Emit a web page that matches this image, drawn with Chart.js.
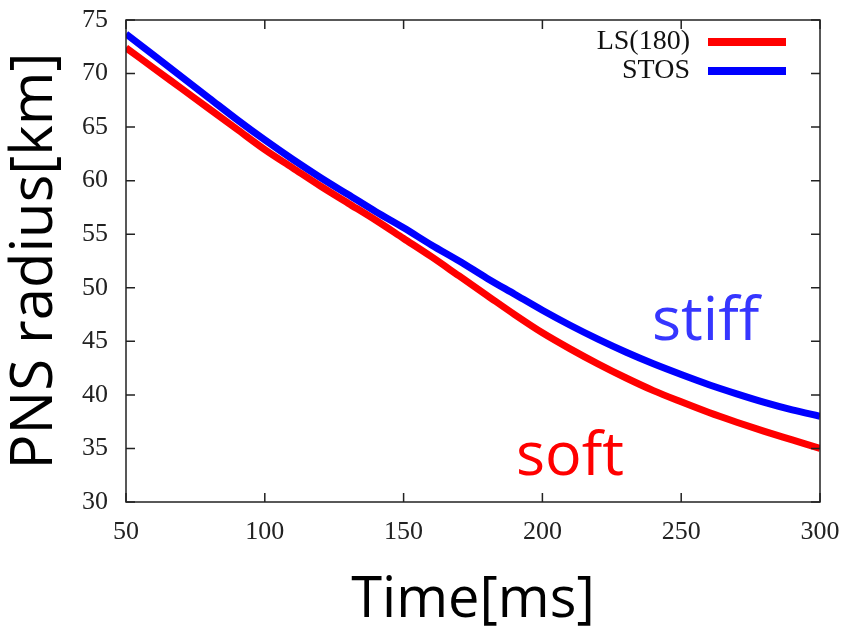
<!DOCTYPE html>
<html>
<head>
<meta charset="utf-8">
<script src="https://cdn.jsdelivr.net/npm/chart.js@4"></script>
<style>
  html, body { margin: 0; padding: 0; background: #fff; }
  #wrap { width: 846px; height: 633px; }
</style>
</head>
<body>
<div id="wrap"><canvas id="radius-chart"></canvas></div>
<script>
const times = [50,60,70,80,90,100,110,120,130,140,150,160,170,180,190,200,210,220,230,240,250,260,270,280,290,300];
const ls180 = [72.4,70.5,68.6,66.7,64.8,62.9,61.2,59.5,57.9,56.3,54.6,52.9,51.1,49.3,47.5,45.8,44.3,42.9,41.6,40.4,39.35,38.35,37.45,36.6,35.8,35.0];
const stos  = [73.7,71.7,69.7,67.7,65.7,63.8,62.0,60.3,58.7,57.1,55.6,54.0,52.5,50.9,49.4,47.9,46.5,45.2,44.0,42.9,41.9,40.95,40.1,39.3,38.6,38.0];
const seriesNames = ["LS(180)", "STOS"];
const seriesColors = ["#ff0000", "#0000ff"];
const xTicks = [50,100,150,200,250,300];
const yTicks = [30,35,40,45,50,55,60,65,70,75];
const notes = [
  {text: "stiff", x: 239.5, y: 45.1, color: "#3636ff"},
  {text: "soft", x: 190.5, y: 32.5, color: "#ff0000"}
];

const ctx = document.getElementById("radius-chart").getContext("2d");

const frame = {
  id: "frame",
  afterDraw(chart) {
    const {ctx, chartArea: a, scales} = chart;
    ctx.save();
    ctx.strokeStyle = "#222";
    ctx.lineWidth = 1.5;
    ctx.beginPath();
    xTicks.forEach(v => {
      const px = scales.x.getPixelForValue(v);
      ctx.moveTo(px, a.bottom); ctx.lineTo(px, a.bottom - 9);
      ctx.moveTo(px, a.top); ctx.lineTo(px, a.top + 9);
    });
    yTicks.forEach(v => {
      const py = scales.y.getPixelForValue(v);
      ctx.moveTo(a.left, py); ctx.lineTo(a.left + 9, py);
      ctx.moveTo(a.right, py); ctx.lineTo(a.right - 9, py);
    });
    ctx.stroke();
    ctx.strokeRect(a.left, a.top, a.right - a.left, a.bottom - a.top);

    // legend, gnuplot style: text then line sample
    ctx.font = "28px 'Liberation Serif'";
    ctx.textAlign = "right";
    ctx.textBaseline = "middle";
    chart.data.datasets.forEach((ds, i) => {
      const y = a.top + 22 + i * 29;
      ctx.fillStyle = "#111";
      ctx.fillText(ds.label, a.right - 130, y);
      ctx.strokeStyle = ds.borderColor;
      ctx.lineWidth = 8;
      ctx.beginPath();
      ctx.moveTo(a.right - 112, y); ctx.lineTo(a.right - 34, y);
      ctx.stroke();
    });

    ctx.font = "61px 'Open Sans'";
    ctx.textAlign = "left";
    ctx.textBaseline = "alphabetic";
    notes.forEach(n => {
      ctx.fillStyle = n.color;
      ctx.fillText(n.text, scales.x.getPixelForValue(n.x), scales.y.getPixelForValue(n.y));
    });
    ctx.restore();
  }
};

new Chart(ctx, {
  type: "line",
  data: {
    datasets: seriesNames.map((name, i) => ({
      label: name,
      data: times.map((t, j) => ({x: t, y: [ls180, stos][i][j]})),
      borderColor: seriesColors[i],
      borderWidth: 7,
      pointRadius: 0,
      cubicInterpolationMode: "monotone",
      fill: false
    }))
  },
  options: {
    responsive: true,
    maintainAspectRatio: false,
    animation: false,
    layout: {padding: {left: 6, right: 26, top: 20, bottom: 4}},
    plugins: {
      legend: {display: false},
      tooltip: {enabled: false}
    },
    scales: {
      x: {
        type: "linear",
        min: 50, max: 300,
        afterBuildTicks: s => { s.ticks = xTicks.map(v => ({value: v})); },
        afterFit: s => { s.paddingLeft = 0; s.paddingRight = 0; },
        grid: {display: false, drawTicks: false},
        border: {display: false},
        ticks: {padding: 17, color: "#222", font: {family: "Liberation Serif", size: 26, lineHeight: 1}, maxRotation: 0},
        title: {display: true, text: "Time[ms]", color: "#000",
          font: {family: "Open Sans", size: 56, lineHeight: 1}, padding: {top: 11, bottom: 0}}
      },
      y: {
        min: 30, max: 75,
        afterBuildTicks: s => { s.ticks = yTicks.map(v => ({value: v})); },
        afterFit: s => { s.paddingTop = 0; s.paddingBottom = 0; },
        grid: {display: false, drawTicks: false},
        border: {display: false},
        ticks: {padding: 18, color: "#222", font: {family: "Liberation Serif", size: 26, lineHeight: 1}},
        title: {display: true, text: "PNS radius[km]", color: "#000",
          font: {family: "Open Sans", size: 58, lineHeight: 1}, padding: {top: 0, bottom: 0}}
      }
    }
  },
  plugins: [frame]
});
</script>
</body>
</html>
